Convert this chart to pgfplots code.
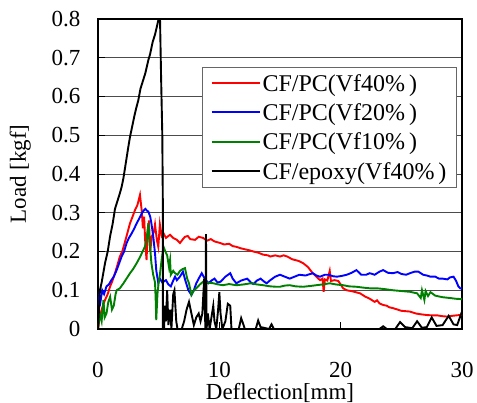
\documentclass[border=0pt]{standalone}
\usepackage{pgfplots}
\pgfplotsset{compat=1.18}
\usepackage{fontspec}
\setmainfont{Liberation Serif}
\newcommand{\bigfont}{\fontsize{23}{27}\selectfont}
\newcommand{\legfont}{\fontsize{24}{28}\selectfont}
\definecolor{cgreen}{RGB}{0,128,0}
\begin{document}
\begin{tikzpicture}
\begin{axis}[
name=ax,
scale only axis,
width=364pt, height=310pt,
xmin=0, xmax=30, ymin=0, ymax=0.8,
xtick={0,10,20,30}, ytick={0,0.1,...,0.8},
yticklabels={0,0.1,0.2,0.3,0.4,0.5,0.6,0.7,0.8},
tick align=inside, xtick pos=bottom, ytick pos=left,
major tick length=7pt,
tick style={black, line width=0.8pt},
ymajorgrids,
major grid style={black!70, line width=0.8pt},
axis line style={line width=2pt},
/pgf/number format/assume math mode=true,
ticklabel style={font=\bigfont},
xticklabel style={yshift=-30pt},
yticklabel style={xshift=-14pt},
xlabel={Deflection[mm]}, ylabel={Load [kgf]},
label style={font=\bigfont},
xlabel style={yshift=2pt},
ylabel style={yshift=14pt},
legend cell align=left,
legend style={at={(0.986,0.846)}, anchor=north east, draw=black!60, line width=0.8pt,
  fill=white, font=\legfont, row sep=7pt, inner xsep=8pt, inner ysep=5pt},
legend image code/.code={\draw[#1, line width=2pt] (0pt,0.5pt) -- (48pt,0.5pt);},
every axis plot/.append style={line width=1.9pt},
]
\addplot[red] coordinates {
(0,0) (0.1,0.02) (0.3,0.05) (0.58,0.075) (0.8,0.09) (1.0,0.11) (1.2,0.125) (1.4,0.144) (1.6,0.165) (1.8,0.187)
(2.0,0.2) (2.2,0.222) (2.4,0.245) (2.64,0.273) (2.85,0.29) (3.05,0.307) (3.25,0.32) (3.46,0.346) (3.55,0.32) (3.6,0.307)
(3.7,0.26) (3.8,0.29) (3.9,0.22) (4.0,0.178) (4.1,0.25) (4.2,0.28) (4.3,0.2) (4.45,0.24) (4.6,0.25) (4.7,0.27)
(4.85,0.23) (4.97,0.212) (5.1,0.27) (5.25,0.24) (5.4,0.247) (5.6,0.235) (5.8,0.24) (5.94,0.243) (6.2,0.235) (6.5,0.23)
(6.76,0.222) (7.0,0.232) (7.17,0.238) (7.4,0.24) (7.6,0.232) (8.0,0.23) (8.3,0.238) (8.66,0.235) (9.0,0.228) (9.3,0.232)
(9.6,0.226) (10.06,0.222) (10.4,0.218) (10.8,0.22) (11.1,0.214) (11.4,0.212) (11.8,0.208) (12.2,0.205) (12.5,0.203) (12.8,0.2)
(13.2,0.197) (13.6,0.192) (14.0,0.19) (14.2,0.187) (14.6,0.19) (15.0,0.187) (15.3,0.19) (15.6,0.187) (16.0,0.18) (16.5,0.176)
(16.9,0.17) (17.3,0.16) (17.7,0.144) (18.0,0.135) (18.3,0.126) (18.5,0.13) (18.6,0.096) (18.7,0.128) (18.9,0.125) (19.1,0.15)
(19.2,0.124) (19.5,0.126) (19.8,0.124) (20.0,0.115) (20.2,0.105) (20.5,0.1) (21.0,0.097) (21.6,0.092) (22.0,0.084) (22.4,0.078)
(22.8,0.07) (23.0,0.074) (23.2,0.066) (23.5,0.062) (23.8,0.06) (24.0,0.056) (24.3,0.054) (24.7,0.05) (25.0,0.047) (25.7,0.045)
(26.2,0.04) (26.6,0.038) (27.1,0.036) (27.6,0.035) (28.0,0.035) (28.4,0.033) (28.8,0.032) (29.2,0.034) (29.8,0.036) (30,0.036)
};
\addlegendentry{CF/PC(Vf40\%\,)}
\addplot[blue] coordinates {
(0,0.06) (0.1,0.085) (0.2,0.07) (0.35,0.1) (0.5,0.09) (0.7,0.11) (0.9,0.115) (1.1,0.126) (1.3,0.135) (1.54,0.152)
(1.75,0.17) (1.95,0.187) (2.15,0.2) (2.36,0.222) (2.55,0.235) (2.78,0.247) (3.0,0.26) (3.19,0.273) (3.4,0.285) (3.6,0.298)
(3.75,0.305) (3.9,0.31) (4.05,0.305) (4.15,0.303) (4.3,0.29) (4.4,0.273) (4.55,0.24) (4.7,0.195) (4.8,0.152) (4.97,0.118)
(5.1,0.13) (5.3,0.12) (5.6,0.126) (5.8,0.115) (6.0,0.11) (6.2,0.125) (6.35,0.135) (6.5,0.126) (6.75,0.135) (7.0,0.148)
(7.2,0.125) (7.45,0.1) (7.7,0.088) (7.9,0.1) (8.1,0.118) (8.3,0.13) (8.55,0.144) (8.8,0.13) (9.1,0.118) (9.35,0.125)
(9.6,0.13) (9.85,0.12) (10.1,0.122) (10.5,0.135) (10.9,0.144) (11.1,0.13) (11.4,0.118) (11.8,0.125) (12.3,0.13) (12.6,0.12)
(12.8,0.116) (13.1,0.125) (13.4,0.13) (13.7,0.122) (13.9,0.118) (14.2,0.126) (14.6,0.135) (15.0,0.14) (15.4,0.135) (15.8,0.13)
(16.2,0.135) (16.6,0.14) (17.1,0.138) (17.7,0.144) (18.0,0.138) (18.3,0.135) (18.7,0.14) (19.0,0.14) (19.4,0.136) (19.7,0.135)
(20.1,0.137) (20.5,0.14) (20.9,0.145) (21.3,0.152) (21.7,0.14) (22.1,0.14) (22.4,0.144) (22.8,0.14) (23.2,0.148) (23.5,0.152)
(23.9,0.145) (24.3,0.144) (24.7,0.147) (25.0,0.142) (25.4,0.14) (25.8,0.145) (26.1,0.148) (26.4,0.148) (26.8,0.14) (27.1,0.138)
(27.4,0.135) (27.8,0.135) (28.1,0.13) (28.4,0.13) (28.8,0.128) (29.0,0.133) (29.3,0.135) (29.5,0.125) (29.7,0.11) (29.85,0.105) (30,0.105)
};
\addlegendentry{CF/PC(Vf20\%\,)}
\addplot[cgreen] coordinates {
(0,0) (0.15,0.04) (0.3,0.02) (0.45,0.075) (0.55,0.03) (0.7,0.04) (0.85,0.07) (1.0,0.083) (1.15,0.05) (1.3,0.06)
(1.45,0.09) (1.54,0.1) (1.8,0.105) (2.1,0.118) (2.35,0.13) (2.64,0.144) (2.9,0.155) (3.19,0.17) (3.45,0.185) (3.74,0.204)
(3.9,0.215) (4.0,0.23) (4.15,0.273) (4.25,0.23) (4.4,0.17) (4.55,0.14) (4.7,0.12) (4.75,0.08) (4.8,0.023) (4.9,0.09)
(5.0,0.12) (5.1,0.14) (5.25,0.18) (5.4,0.212) (5.55,0.2) (5.7,0.19) (5.85,0.16) (5.94,0.178) (6.0,0.14) (6.2,0.15)
(6.35,0.144) (6.55,0.14) (6.76,0.15) (7.0,0.155) (7.17,0.157) (7.35,0.13) (7.5,0.118) (7.7,0.088) (7.9,0.1) (8.1,0.105)
(8.4,0.115) (8.66,0.122) (9.0,0.12) (9.5,0.118) (9.9,0.115) (10.3,0.113) (10.8,0.116) (11.4,0.113) (12.0,0.115) (12.6,0.118)
(13.1,0.115) (13.6,0.113) (14.2,0.11) (14.7,0.109) (15.0,0.109) (15.4,0.112) (15.8,0.113) (16.3,0.11) (16.9,0.109) (17.5,0.111)
(18.0,0.113) (18.5,0.115) (19.1,0.118) (19.6,0.115) (20.2,0.113) (20.7,0.11) (21.3,0.109) (21.8,0.107) (22.4,0.105) (23.0,0.105)
(23.6,0.103) (24.3,0.1) (25.0,0.098) (25.7,0.096) (26.3,0.092) (26.6,0.08) (26.7,0.1) (26.9,0.075) (27.0,0.098) (27.2,0.085)
(27.4,0.095) (27.8,0.086) (28.4,0.082) (29.0,0.08) (29.5,0.078) (30,0.077)
};
\addlegendentry{CF/PC(Vf10\%\,)}
\addplot[black] coordinates {
(0,0) (0.16,0.10) (0.3,0.12) (0.58,0.17) (0.8,0.2) (1.0,0.24) (1.2,0.27) (1.4,0.31) (1.6,0.33) (1.8,0.35)
(1.95,0.367) (2.1,0.39) (2.3,0.43) (2.5,0.47) (2.64,0.496) (2.8,0.52) (3.0,0.55) (3.15,0.57) (3.32,0.59) (3.5,0.62)
(3.7,0.64) (3.9,0.66) (4.15,0.694) (4.3,0.71) (4.5,0.74) (4.7,0.76) (4.85,0.78) (4.97,0.797) (5.05,0.83) (5.1,0.82)
(5.2,0.65) (5.3,0.5) (5.35,0.3) (5.35,0) (5.45,0) (5.5,0.06) (5.6,0.02) (5.7,0.1) (5.8,0.01) (5.95,0.05)
(6.05,0.0) (6.2,0.09) (6.3,0.1) (6.45,0.02) (6.55,0.0) (6.9,0.0) (7.1,0.02) (7.3,0.05) (7.5,0.07) (7.7,0.04)
(7.9,0.01) (8.1,0.03) (8.3,0.04) (8.45,0.02) (8.6,0.04) (8.75,0.13) (8.85,0.0) (8.9,0.245) (8.95,0.0) (9.05,0.04)
(9.2,0.0) (9.4,0.04) (9.5,0.06) (9.6,0.02) (9.75,0.0) (9.9,0.05) (10.0,0.095) (10.1,0.04) (10.25,0.0) (10.5,0.02)
(10.7,0.065) (10.9,0.06) (11.0,0.0) (11.6,0.0) (11.8,0.028) (12.0,0.01) (12.1,0.0) (13.0,0.0) (13.2,0.022) (13.4,0.005)
(14.1,0.0) (14.3,0.012) (14.5,0.0) (23.2,0) (23.5,0.007) (23.8,0.0) (24.5,0.0) (24.9,0.018) (25.3,0.005) (25.9,0.002)
(26.3,0.02) (26.7,0.003) (27.1,0.005) (27.5,0.03) (27.9,0.008) (28.4,0.01) (28.9,0.034) (29.3,0.012) (29.6,0.01) (30,0.045)
};
\addlegendentry{CF/epoxy(Vf40\%\,)}
\end{axis}
\pgfresetboundingbox
\path[use as bounding box] ([shift={(-98pt,-74pt)}]ax.south west) rectangle ([shift={(15pt,19pt)}]ax.north east);
\end{tikzpicture}
\end{document}
